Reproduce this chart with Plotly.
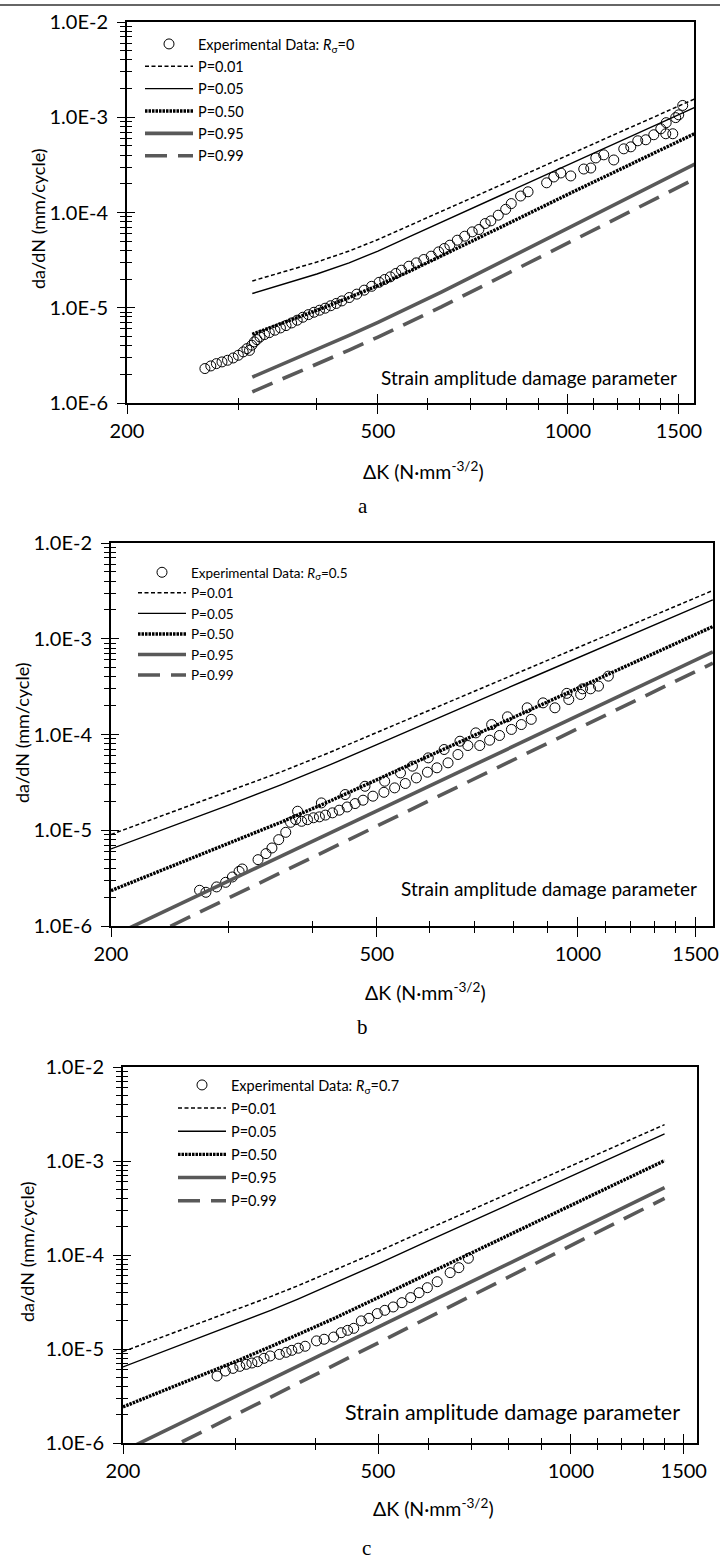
import math
import plotly.graph_objects as go

W, H = 720, 1560
FONT = "Lato"

# ---------------- Panel a (R_sigma = 0) ----------------
a_line_K = [316, 360, 400, 450, 500, 560, 630, 700, 800, 1000, 1200, 1590]
a_p01 = [1.91e-5, 2.46e-5, 3.02e-5, 3.94e-5, 5.20e-5, 7.26e-5, 1.03e-4, 1.40e-4, 2.07e-4, 3.99e-4, 6.82e-4, 1.56e-3]
a_p05 = [1.41e-5, 1.83e-5, 2.26e-5, 2.96e-5, 3.94e-5, 5.55e-5, 7.91e-5, 1.08e-4, 1.62e-4, 3.16e-4, 5.47e-4, 1.27e-3]
a_p50 = [5.27e-6, 7.21e-6, 9.40e-6, 1.28e-5, 1.71e-5, 2.40e-5, 3.48e-5, 4.88e-5, 7.52e-5, 1.55e-4, 2.78e-4, 6.75e-4]
a_p95 = [1.87e-6, 2.70e-6, 3.65e-6, 5.13e-6, 7.03e-6, 1.0e-5, 1.46e-5, 2.07e-5, 3.23e-5, 6.82e-5, 1.26e-4, 3.22e-4]
a_p99 = [1.31e-6, 1.89e-6, 2.55e-6, 3.59e-6, 4.92e-6, 7.0e-6, 1.02e-5, 1.45e-5, 2.26e-5, 4.78e-5, 8.79e-5, 2.25e-4]
a_exp_K = [265.8, 271.6, 277.2, 282.9, 288.7, 294.7, 300.3, 305.7, 309.8, 312.8, 315.4, 318.4,
           321.4, 325.0, 330.4, 336.2, 343.2, 350.2, 357.4, 364.8, 372.3, 380.0, 387.8, 395.8,
           403.9, 412.3, 420.7, 429.4, 438.2, 450.2, 462.8, 475.5, 488.6, 502.1, 512.4, 523.0,
           533.7, 544.7, 559.7, 575.2, 591.0, 607.3, 624.0, 637.0, 650.0, 667.9, 686.3, 705.3,
           722.7, 739.6, 754.9, 775.7, 797.0, 813.4, 841.6, 864.8, 925.5, 950.0, 974.6, 1010.7,
           1059.8, 1087.3, 1107.5, 1140.1, 1182.6, 1226.5, 1258.3, 1290.8, 1329.1, 1368.6,
           1404.0, 1429.8, 1432.0, 1466.8, 1482.5, 1499.0, 1521.0]
a_exp_v = [2.30e-6, 2.45e-6, 2.59e-6, 2.70e-6, 2.81e-6, 2.97e-6, 3.17e-6, 3.44e-6, 3.72e-6,
           3.57e-6, 4.04e-6, 4.38e-6, 4.63e-6, 4.94e-6, 5.23e-6, 5.48e-6, 5.81e-6, 6.14e-6,
           6.50e-6, 6.93e-6, 7.40e-6, 7.95e-6, 8.47e-6, 8.97e-6, 9.42e-6, 9.89e-6, 1.05e-5,
           1.11e-5, 1.18e-5, 1.28e-5, 1.39e-5, 1.53e-5, 1.68e-5, 1.85e-5, 1.98e-5, 2.11e-5,
           2.29e-5, 2.48e-5, 2.73e-5, 2.96e-5, 3.21e-5, 3.48e-5, 3.86e-5, 4.19e-5, 4.54e-5,
           5.12e-5, 5.64e-5, 6.26e-5, 6.63e-5, 7.66e-5, 8.17e-5, 9.37e-5, 1.08e-4, 1.24e-4,
           1.49e-4, 1.65e-4, 2.05e-4, 2.36e-4, 2.60e-4, 2.42e-4, 2.86e-4, 2.93e-4, 3.74e-4,
           4.03e-4, 3.56e-4, 4.66e-4, 4.89e-4, 5.66e-4, 5.80e-4, 6.55e-4, 7.57e-4, 6.71e-4,
           8.77e-4, 6.71e-4, 9.91e-4, 1.06e-3, 1.33e-3]

# ---------------- Panel b (R_sigma = 0.5) ----------------
b_line_K = [200, 250, 300, 360, 425, 500, 600, 700, 850, 1000, 1165, 1400, 1592]
b_p01 = [9.02e-6, 1.59e-5, 2.53e-5, 4.09e-5, 6.50e-5, 1.05e-4, 1.81e-4, 2.85e-4, 5.05e-4, 8.15e-4, 1.28e-3, 2.19e-3, 3.19e-3]
b_p05 = [6.38e-6, 1.14e-5, 1.83e-5, 3.0e-5, 4.81e-5, 7.83e-5, 1.37e-4, 2.17e-4, 3.89e-4, 6.34e-4, 1.0e-3, 1.74e-3, 2.55e-3]
b_p50 = [2.34e-6, 4.35e-6, 7.21e-6, 1.22e-5, 2.01e-5, 3.37e-5, 6.07e-5, 9.91e-5, 1.84e-4, 3.08e-4, 4.99e-4, 8.93e-4, 1.34e-3]
b_p95 = [7.74e-7, 1.62e-6, 2.95e-6, 5.38e-6, 9.31e-6, 1.59e-5, 2.91e-5, 4.83e-5, 9.18e-5, 1.57e-4, 2.59e-4, 4.77e-4, 7.28e-4]
b_p99 = [4.97e-7, 1.06e-6, 1.96e-6, 3.63e-6, 6.37e-6, 1.10e-5, 2.05e-5, 3.44e-5, 6.65e-5, 1.15e-4, 1.93e-4, 3.60e-4, 5.56e-4]
b_exp_K = [271.4, 277.4, 287.8, 296.9, 303.9, 311.0, 314.4, 332.0, 341.2, 348.3, 356.5, 365.3,
           371.4, 378.0, 380.5, 385.8, 393.7, 401.9, 410.2, 413.0, 418.8, 429.1, 439.2, 448.3,
           451.4, 463.9, 476.8, 480.0, 493.3, 512.4, 513.7, 531.6, 542.5, 551.6, 565.3, 573.0,
           595.3, 597.0, 615.1, 630.5, 639.1, 661.3, 665.9, 684.3, 703.3, 712.9, 737.6, 742.8,
           763.2, 784.5, 795.2, 822.8, 839.6, 851.4, 886.7, 923.8, 962.5, 969.0, 1009.5,
           1016.2, 1044.5, 1073.5, 1110.6]
b_exp_v = [2.36e-6, 2.25e-6, 2.56e-6, 2.86e-6, 3.25e-6, 3.72e-6, 3.94e-6, 4.93e-6, 5.70e-6,
           6.53e-6, 7.98e-6, 9.52e-6, 1.21e-5, 1.29e-5, 1.58e-5, 1.24e-5, 1.29e-5, 1.35e-5,
           1.38e-5, 1.93e-5, 1.44e-5, 1.52e-5, 1.62e-5, 2.36e-5, 1.75e-5, 1.90e-5, 2.06e-5,
           2.88e-5, 2.27e-5, 2.49e-5, 3.25e-5, 2.77e-5, 3.97e-5, 3.08e-5, 4.67e-5, 3.52e-5,
           4.04e-5, 5.70e-5, 4.49e-5, 6.97e-5, 5.06e-5, 6.18e-5, 8.51e-5, 7.67e-5, 1.04e-4,
           7.67e-5, 8.72e-5, 1.27e-4, 9.77e-5, 1.53e-4, 1.13e-4, 1.27e-4, 1.90e-4, 1.44e-4,
           2.14e-4, 1.90e-4, 2.69e-4, 2.32e-4, 2.62e-4, 3.00e-4, 3.00e-4, 3.20e-4, 4.07e-4]

# ---------------- Panel c (R_sigma = 0.7) ----------------
c_line_K = [200, 250, 300, 340, 375, 430, 500, 600, 700, 850, 1000, 1200, 1400]
c_p01 = [9.38e-6, 1.64e-5, 2.60e-5, 3.61e-5, 4.71e-5, 6.98e-5, 1.09e-4, 1.90e-4, 3.02e-4, 5.41e-4, 8.83e-4, 1.53e-3, 2.44e-3]
c_p05 = [6.44e-6, 1.15e-5, 1.84e-5, 2.58e-5, 3.40e-5, 5.08e-5, 8.05e-5, 1.42e-4, 2.28e-4, 4.15e-4, 6.86e-4, 1.21e-3, 1.94e-3]
c_p50 = [2.42e-6, 4.46e-6, 7.38e-6, 1.06e-5, 1.42e-5, 2.16e-5, 3.52e-5, 6.38e-5, 1.05e-4, 1.98e-4, 3.37e-4, 6.09e-4, 1.01e-3]
c_p95 = [8.18e-7, 1.71e-6, 3.14e-6, 4.75e-6, 6.58e-6, 1.04e-5, 1.71e-5, 3.13e-5, 5.21e-5, 9.93e-5, 1.70e-4, 3.12e-4, 5.20e-4]
c_p99 = [4.95e-7, 1.07e-6, 2.0e-6, 3.08e-6, 4.31e-6, 6.90e-6, 1.16e-5, 2.17e-5, 3.69e-5, 7.19e-5, 1.26e-4, 2.36e-4, 4.0e-4]
c_exp_K = [280.4, 288.9, 296.9, 304.3, 311.4, 317.8, 324.4, 332.0, 339.4, 350.8, 359.4, 366.8,
           375.5, 384.8, 400.9, 412.0, 426.3, 438.0, 448.3, 458.2, 470.9, 484.0, 498.7, 512.4,
           528.0, 544.9, 562.2, 579.4, 597.0, 618.5, 647.9, 668.5, 691.8]
c_exp_v = [5.16e-6, 5.83e-6, 6.22e-6, 6.54e-6, 6.87e-6, 7.10e-6, 7.33e-6, 7.96e-6, 8.43e-6,
           8.77e-6, 9.22e-6, 9.68e-6, 1.02e-5, 1.07e-5, 1.22e-5, 1.27e-5, 1.34e-5, 1.49e-5,
           1.58e-5, 1.66e-5, 1.99e-5, 2.12e-5, 2.38e-5, 2.58e-5, 2.80e-5, 3.11e-5, 3.52e-5,
           3.97e-5, 4.49e-5, 5.20e-5, 6.49e-5, 7.33e-5, 9.23e-5]

series_names = ["P=0.01", "P=0.05", "P=0.50", "P=0.95", "P=0.99"]
r_labels = ["0", "0.5", "0.7"]
x_tick_vals = [200, 500, 1000, 1500]
x_tick_text = ["200", "500", "1000", "1500"]
x_minor_vals = [300, 400, 600, 700, 800, 900, 1100, 1200, 1300, 1400]
y_tick_vals = [1e-6, 1e-5, 1e-4, 1e-3, 1e-2]
y_tick_text = ["1.0E-6", "1.0E-5", "1.0E-4", "1.0E-3", "1.0E-2"]
y_minor_vals = [m * 10.0 ** e for e in range(-6, -2) for m in range(2, 10)]

line_styles = [
    dict(color="black", width=1.5, dash="4px,2.5px"),
    dict(color="black", width=1.4),
    dict(color="black", width=3.4, dash="2.5px,1px"),
    dict(color="#595959", width=3.6),
    dict(color="#595959", width=3.6, dash="22px,11px"),
]

# panel geometry in pixels: left, right, top, bottom, right-edge K value
panels = [
    dict(l=127, r=694, t=22, b=403, kmax=1585, K=a_line_K,
         lines=[a_p01, a_p05, a_p50, a_p95, a_p99], eK=a_exp_K, ev=a_exp_v,
         leg=(140, 28), gap=0.5, fs=14.5),
    dict(l=111, r=713, t=543, b=926, kmax=1593, K=b_line_K,
         lines=[b_p01, b_p05, b_p50, b_p95, b_p99], eK=b_exp_K, ev=b_exp_v,
         leg=(133, 557), gap=0, fs=13.5),
    dict(l=123, r=697, t=1067, b=1443, kmax=1573, K=c_line_K,
         lines=[c_p01, c_p05, c_p50, c_p95, c_p99], eK=c_exp_K, ev=c_exp_v,
         leg=(173, 1069), gap=1.3, fs=14.5),
]

fig = go.Figure()
layout = dict(width=W, height=H, margin=dict(l=0, r=0, t=0, b=0, autoexpand=False),
              paper_bgcolor="white", plot_bgcolor="white", showlegend=True,
              font=dict(family=FONT, color="black"))

for i, p in enumerate(panels):
    n = i + 1
    xa = "x" if n == 1 else f"x{n}"
    ya = "y" if n == 1 else f"y{n}"
    ox, oy = f"x{n + 3}", f"y{n + 3}"
    legname = "legend" if n == 1 else f"legend{n}"
    dx = [p["l"] / W, p["r"] / W]
    dy = [1 - p["b"] / H, 1 - p["t"] / H]
    xr = [math.log10(200), math.log10(p["kmax"])]
    yr = [-6, -2]

    fig.add_trace(go.Scatter(
        x=p["eK"], y=p["ev"], mode="markers", xaxis=xa, yaxis=ya,
        name=f"Experimental Data: <i>R</i><sub>σ</sub>={r_labels[i]}",
        legend=legname, legendgroup=f"g{n}0",
        marker=dict(symbol="circle-open", size=10, color="black", line=dict(width=1))))
    for j, (nm, vals) in enumerate(zip(series_names, p["lines"])):
        fig.add_trace(go.Scatter(
            x=p["K"], y=vals, mode="lines", xaxis=xa, yaxis=ya, name=nm,
            legend=legname, legendgroup=f"g{n}{j + 1}", line=line_styles[j]))
    fig.add_trace(go.Scatter(x=[], y=[], xaxis=ox, yaxis=oy, showlegend=False))

    common_x = dict(type="log", range=xr, showgrid=False, zeroline=False,
                    tickmode="array", tickvals=x_tick_vals, automargin=False)
    common_y = dict(type="log", range=yr, showgrid=False, zeroline=False,
                    tickmode="array", tickvals=y_tick_vals, automargin=False)
    key = lambda a: a.replace("x", "xaxis").replace("y", "yaxis")
    layout[key(xa)] = dict(
        common_x, domain=dx, anchor=ya, ticktext=x_tick_text, ticks="outside",
        ticklen=9, tickwidth=1.2, tickcolor="black", showline=True, linewidth=2,
        linecolor="black", mirror=True, ticklabelstandoff=0,
        tickfont=dict(family=FONT, size=20, color="black"),
        minor=dict(tickmode="array", tickvals=x_minor_vals, ticks="outside",
                   ticklen=5, tickwidth=1, tickcolor="black"))
    layout[key(ya)] = dict(
        common_y, domain=dy, anchor=xa, ticktext=y_tick_text, ticks="outside",
        ticklen=8, tickwidth=1.2, tickcolor="black", showline=True, linewidth=2,
        linecolor="black", mirror=True, ticklabelstandoff=5,
        tickfont=dict(family=FONT, size=20, color="black"),
        minor=dict(tickmode="array", tickvals=y_minor_vals, ticks="outside",
                   ticklen=5, tickwidth=1, tickcolor="black"))
    layout[key(ox)] = dict(
        common_x, overlaying=xa, anchor=ya, side="bottom", ticks="inside",
        ticklen=9, tickwidth=1.2, tickcolor="black", showticklabels=False,
        showline=False,
        minor=dict(tickmode="array", tickvals=x_minor_vals, ticks="inside",
                   ticklen=5, tickwidth=1, tickcolor="black"))
    layout[key(oy)] = dict(
        common_y, overlaying=ya, anchor=xa, side="left", ticks="inside",
        ticklen=8, tickwidth=1.2, tickcolor="black", showticklabels=False,
        showline=False,
        minor=dict(tickmode="array", tickvals=y_minor_vals, ticks="inside",
                   ticklen=5, tickwidth=1, tickcolor="black"))
    layout[legname] = dict(
        x=p["leg"][0] / W, y=1 - p["leg"][1] / H, xanchor="left", yanchor="top",
        bgcolor="rgba(0,0,0,0)", borderwidth=0, tracegroupgap=p["gap"],
        itemwidth=48,
        font=dict(family=FONT, size=p["fs"], color="black"), traceorder="grouped")

fig.update_layout(**layout)

def P(x, y):
    return x / W, 1 - y / H

ann = []
x_titles = [(423, 470), (425, 992), (433, 1507)]
letters = [("a", 363, 506), ("b", 362, 1027), ("c", 366, 1548)]
y_titles = [(38, 219), (22, 733), (27, 1252)]
strain = [(679, 377, 19), (699, 888, 19), (682, 1412, 21.5)]
for (xt, yt), (lt, lx, ly), (yx, yy), (sx, sy, ss) in zip(x_titles, letters, y_titles, strain):
    px, py = P(xt, yt)
    ann.append(dict(x=px, y=py, xref="paper", yref="paper", showarrow=False,
                    text="ΔK (N·mm<sup>-3/2</sup>)", font=dict(family=FONT, size=19.5),
                    xanchor="center", yanchor="middle"))
    px, py = P(lx, ly)
    ann.append(dict(x=px, y=py, xref="paper", yref="paper", showarrow=False, text=lt,
                    font=dict(family="Liberation Serif", size=21), xanchor="center",
                    yanchor="middle"))
    px, py = P(yx, yy)
    ann.append(dict(x=px, y=py, xref="paper", yref="paper", showarrow=False,
                    text="da/dN (mm/cycle)", textangle=-90,
                    font=dict(family=FONT, size=18), xanchor="center", yanchor="middle"))
    px, py = P(sx, sy)
    ann.append(dict(x=px, y=py, xref="paper", yref="paper", showarrow=False,
                    text="Strain amplitude damage parameter",
                    font=dict(family=FONT, size=ss), xanchor="right", yanchor="middle"))

fig.update_layout(annotations=ann, shapes=[dict(
    type="line", xref="paper", yref="paper", x0=0, x1=1, y0=1 - 5 / H, y1=1 - 5 / H,
    line=dict(color="#333333", width=1.5))])

fig.write_html("out.html")
